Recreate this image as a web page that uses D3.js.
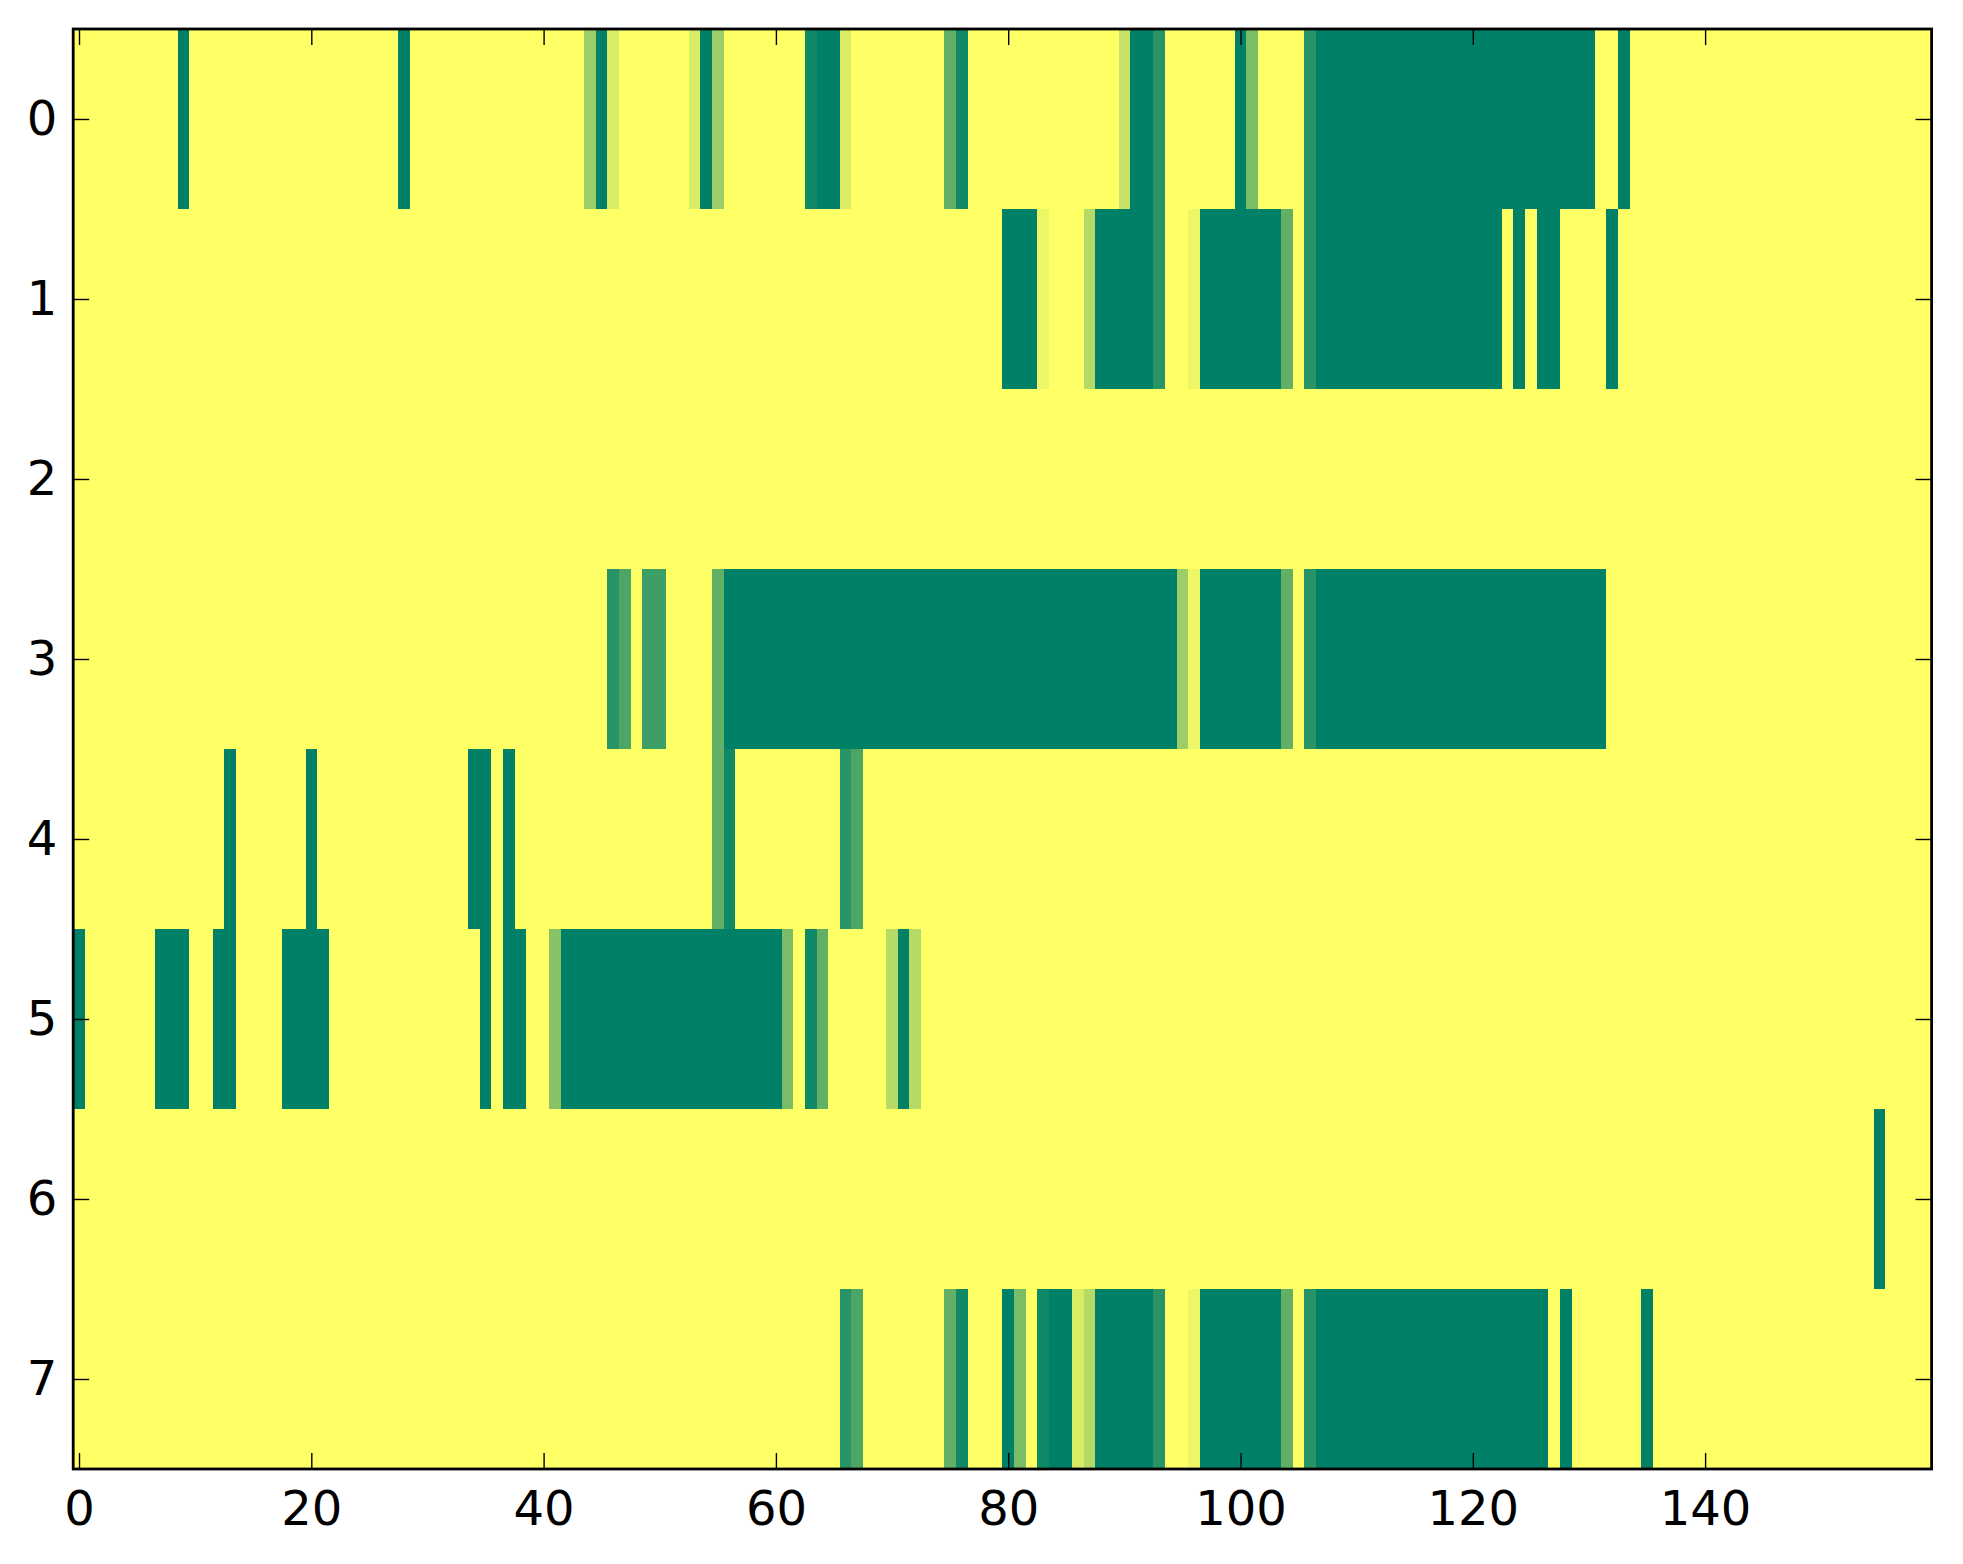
<!DOCTYPE html>
<html>
<head>
<meta charset="utf-8">
<script src="https://cdn.jsdelivr.net/npm/d3@7"></script>
<style>
  html, body { margin: 0; padding: 0; background: #ffffff; }
  svg { display: block; }
</style>
</head>
<body>
<svg id="chart" width="1963" height="1564"></svg>
<script>
// ---- DATA ----
const nCols = 160;
const rowLabels = [0, 1, 2, 3, 4, 5, 6, 7];
const xTickValues = [0, 20, 40, 60, 80, 100, 120, 140];

// each row: runs of [firstColumn, lastColumn, value]; unlisted cells are 0
const row0 = [[9,9,1],[28,28,1],[44,44,0.39],[45,45,1],[46,46,0.15],[53,53,0.15],[54,54,1],[55,55,0.39],
  [63,63,0.93],[64,65,1],[66,66,0.15],[75,75,0.62],[76,76,0.93],[90,90,0.22],[91,92,1],[93,93,0.84],
  [100,100,1],[101,101,0.52],[106,106,0.84],[107,130,1],[133,133,1]];
const row1 = [[80,82,1],[83,83,0.07],[87,87,0.29],[88,92,1],[93,93,0.84],[96,96,0.07],[97,103,1],
  [104,104,0.62],[106,106,0.84],[107,122,1],[124,124,1],[126,127,1],[132,132,1]];
const row2 = [];
const row3 = [[46,46,0.84],[47,47,0.70],[49,50,0.76],[55,55,0.62],[56,94,1],[95,95,0.39],[96,96,0.07],
  [97,103,1],[104,104,0.62],[106,106,0.84],[107,131,1]];
const row4 = [[13,13,1],[20,20,1],[34,35,1],[37,37,1],[55,55,0.62],[56,56,0.93],[66,66,0.84],[67,67,0.70]];
const row5 = [[0,0,1],[7,9,1],[12,13,1],[18,21,1],[35,35,1],[37,38,1],[41,41,0.47],[42,60,1],[61,61,0.52],
  [63,63,0.93],[64,64,0.62],[70,70,0.29],[71,71,1],[72,72,0.29]];
const row6 = [[155,155,1]];
const row7 = [[66,66,0.84],[67,67,0.70],[75,75,0.62],[76,76,0.93],[80,80,1],[81,81,0.52],[83,83,0.93],
  [84,85,1],[86,86,0.15],[87,87,0.29],[88,92,1],[93,93,0.84],[96,96,0.07],[97,103,1],[104,104,0.62],
  [106,106,0.84],[107,126,1],[128,128,1],[135,135,1]];
const rows = [row0, row1, row2, row3, row4, row5, row6, row7];

// build cell table
const cells = [];
rows.forEach((runs, r) => {
  const vals = new Array(nCols).fill(0);
  runs.forEach(([a, b, v]) => { for (let c = a; c <= b; c++) vals[c] = v; });
  vals.forEach((v, c) => cells.push({ row: r, col: c, value: v }));
});

// ---- LAYOUT ----
const plotL = 73.2, plotR = 1931.6, plotT = 29, plotB = 1469;
const svg = d3.select("#chart");

const x = d3.scaleLinear().domain([-0.5, nCols - 0.5]).range([plotL, plotR]);
const y = d3.scaleLinear().domain([-0.5, rowLabels.length - 0.5]).range([plotT, plotB]);

// summer_r colormap: v -> (1-v, 1-v/2, 0.4)
const color = d3.scaleLinear().domain([0, 1]).range(["rgb(255,255,102)", "rgb(0,128,102)"]);

svg.append("g")
  .attr("shape-rendering", "crispEdges")
  .selectAll("rect")
  .data(cells)
  .join("rect")
  .attr("x", d => x(d.col - 0.5))
  .attr("y", d => y(d.row - 0.5))
  .attr("width", d => x(d.col + 0.5) - x(d.col - 0.5) + 0.4)
  .attr("height", d => y(d.row + 0.5) - y(d.row - 0.5) + 0.4)
  .attr("fill", d => color(d.value));

const font = "DejaVu Sans";
const fs = 48;

function styleAxis(g, showText) {
  g.select(".domain").remove();
  g.selectAll(".tick line").attr("stroke", "#000").attr("stroke-width", 1.4);
  g.selectAll(".tick text")
    .attr("fill", "#000")
    .style("font-family", font)
    .style("font-size", fs + "px");
  if (!showText) g.selectAll(".tick text").remove();
}

svg.append("g")
  .attr("transform", `translate(0,${plotB})`)
  .call(d3.axisBottom(x).tickValues(xTickValues).tickSize(-16).tickPadding(22).tickFormat(d3.format("d")))
  .call(g => styleAxis(g, true));

svg.append("g")
  .attr("transform", `translate(0,${plotT})`)
  .call(d3.axisTop(x).tickValues(xTickValues).tickSize(-16).tickFormat(""))
  .call(g => styleAxis(g, false));

svg.append("g")
  .attr("transform", `translate(${plotL},0)`)
  .call(d3.axisLeft(y).tickValues(rowLabels).tickSize(-16).tickPadding(16).tickFormat(d3.format("d")))
  .call(g => styleAxis(g, true));

svg.append("g")
  .attr("transform", `translate(${plotR},0)`)
  .call(d3.axisRight(y).tickValues(rowLabels).tickSize(-16).tickFormat(""))
  .call(g => styleAxis(g, false));

// frame
svg.append("rect")
  .attr("x", plotL).attr("y", plotT)
  .attr("width", plotR - plotL).attr("height", plotB - plotT)
  .attr("fill", "none").attr("stroke", "#000").attr("stroke-width", 2.8);
</script>
</body>
</html>
